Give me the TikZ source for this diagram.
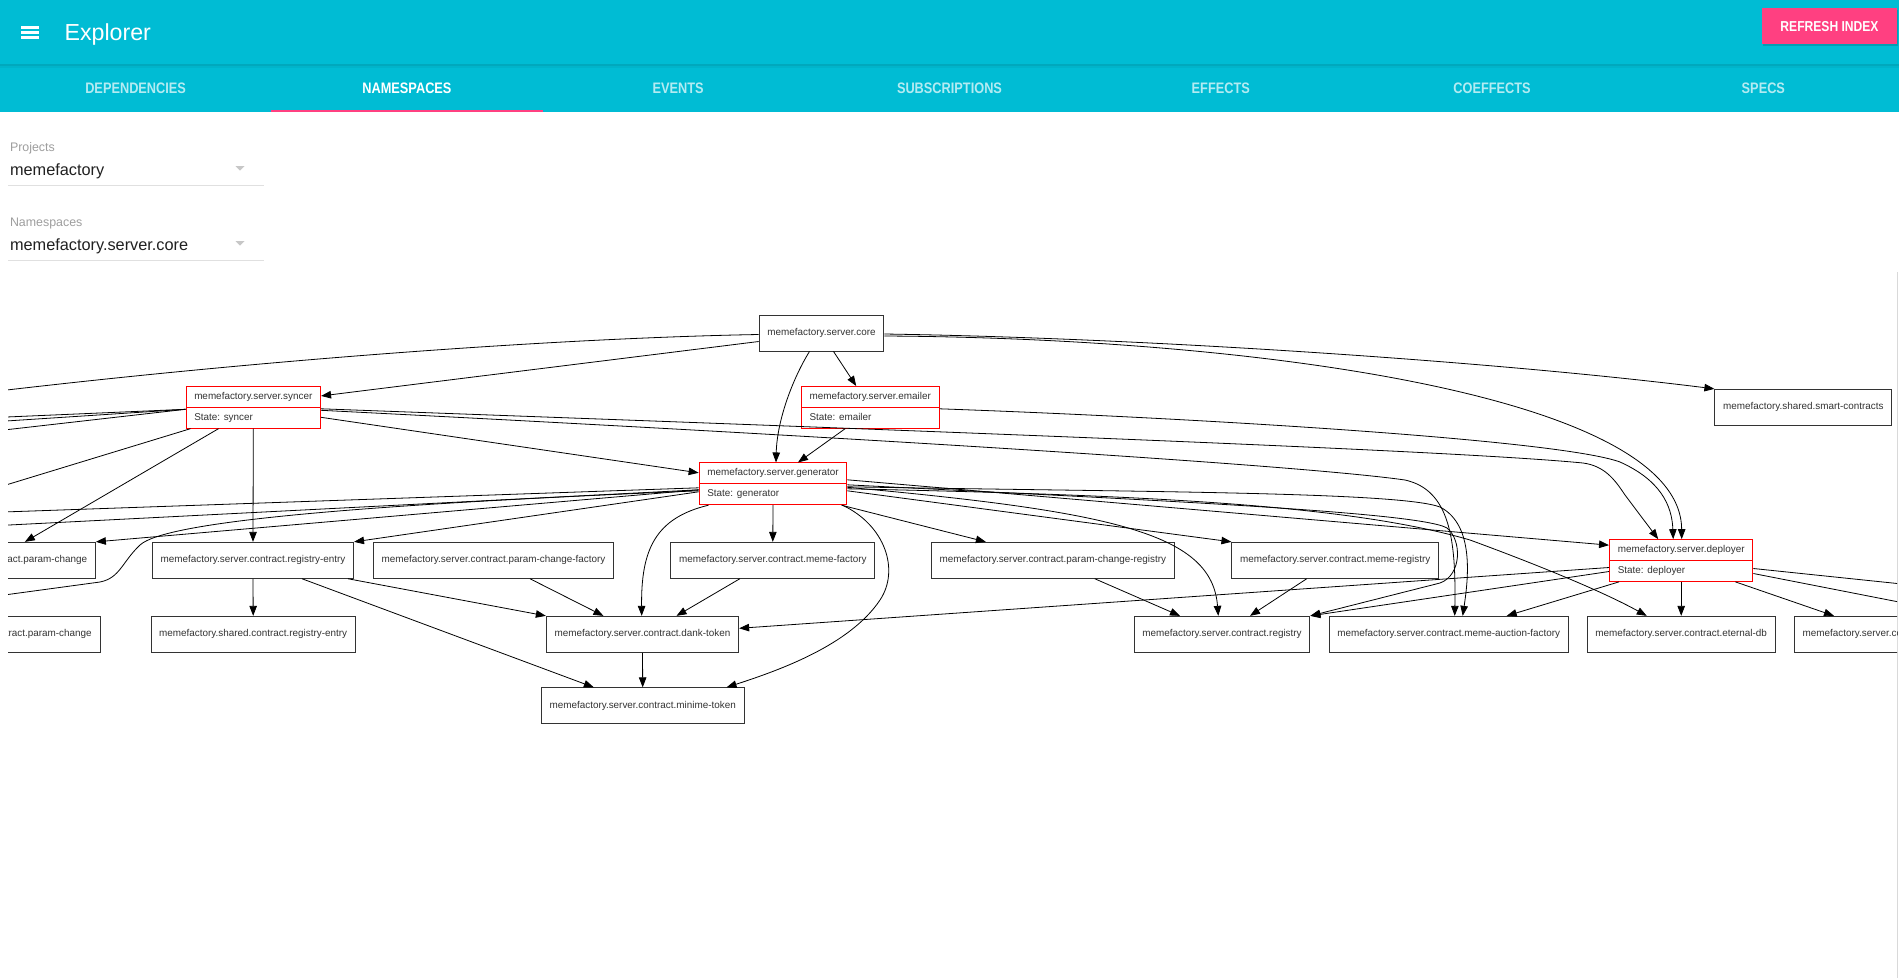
\documentclass[tikz,border=0pt]{standalone}
\usepackage{fontspec}
\setmainfont{Liberation Sans}
\newfontfamily\uifont[FakeStretch=0.84]{Liberation Sans}
\usepackage{tikz}
\usetikzlibrary{arrows.meta}
\usetikzlibrary{calc}
\usetikzlibrary{positioning}
\usetikzlibrary{shapes.multipart}
\definecolor{bar}{HTML}{00BCD4}
\definecolor{accent}{HTML}{FF4081}
\definecolor{tabtext}{HTML}{B3EBF2}
\definecolor{hint}{HTML}{9E9E9E}
\definecolor{ink}{HTML}{212121}
\definecolor{boxline}{HTML}{333333}
\newcommand{\st}[1]{\rule[-2.5pt]{0pt}{10pt}#1}

\begin{document}
\begin{tikzpicture}[x=1pt, y=-1pt,
    ns/.style={draw=boxline, line width=0.9pt, fill=white, text=boxline,
      font=\fontsize{9.9}{11}\selectfont, inner xsep=8.25pt, inner ysep=0pt,
      minimum height=36pt, text height=7.5pt, text depth=2.5pt},
    state/.style={rectangle split, rectangle split parts=2,
      rectangle split part align={left}, draw=red, line width=0.9pt, fill=white,
      text=boxline, font=\fontsize{9.9}{11}\selectfont,
      inner xsep=8.25pt, inner ysep=5pt},
    dep/.style={-{Triangle[length=10pt,width=7.5pt]}, line width=0.8pt},
    tab/.style={font=\uifont\bfseries\fontsize{15.2}{16}\selectfont, anchor=base}]

    \useasboundingbox (0,0) rectangle (1899,978);
    \fill [white] (0,0) rectangle (1899,978);

    % app bar and tabs
    \fill [bar] (0,0) rectangle (1899,112);
    \fill [bar!70!black, opacity=0.35] (0,64) rectangle (1899,66);
    \fill [bar!85!black, opacity=0.25] (0,66) rectangle (1899,68);
    \foreach \y in {27.5,32.5,37.5}
      \fill [white] (21,\y-1.1) rectangle (39,\y+1.1);
    \node [white, anchor=base west, font=\fontsize{23.2}{24}\selectfont]
      (title) at (61,40.5) {Explorer};
    \fill [black, opacity=0.15] (1763,10) rectangle (1898,46);
    \fill [accent] (1762,8) rectangle (1897,44);
    \node [white, anchor=base, font=\uifont\bfseries\fontsize{14.4}{16}\selectfont]
      (refresh) at (1829.5,31.5) {REFRESH INDEX};
    \foreach \name/\col [count=\i] in {DEPENDENCIES/tabtext, NAMESPACES/white,
        EVENTS/tabtext, SUBSCRIPTIONS/tabtext, EFFECTS/tabtext,
        COEFFECTS/tabtext, SPECS/tabtext}
      \node [tab, text=\col] (tab\i) at ({(\i-0.5)*1899/7}, 93.3) {\name};
    \fill [accent] (271.3,109.5) rectangle (542.6,112);

    % selectors
    \node [hint, anchor=base west, font=\fontsize{12.4}{14}\selectfont]
      (projlabel) at (6.5,151) {Projects};
    \node [ink, anchor=base west, font=\fontsize{16.3}{18}\selectfont]
      (project) at (6.5,175) {memefactory};
    \draw [black!12, line width=1pt] (8,185) -- (264,185);
    \fill [black!22] (235.5,166) -- (244.5,166) -- (240,170.5) -- cycle;
    \node [hint, anchor=base west, font=\fontsize{12.4}{14}\selectfont]
      (nslabel) at (6.5,226) {Namespaces};
    \node [ink, anchor=base west, font=\fontsize{16.3}{18}\selectfont]
      (namespace) at (6.5,250) {memefactory.server.core};
    \draw [black!12, line width=1pt] (8,260) -- (264,260);
    \fill [black!22] (235.5,241) -- (244.5,241) -- (240,245.5) -- cycle;

    \draw [black!15, line width=1pt] (1897.5,272) -- (1897.5,978);

    \begin{scope}
    \clip (8,268) rectangle (1897,978);

    \node [ns] (core) at (821.5,333) {memefactory.server.core};
    \node [state] (syncer) at (253.3,407.3)
      {\st{memefactory.server.syncer}\nodepart{two}\st{State: syncer}};
    \node [state] (emailer) at (870.2,407.3)
      {\st{memefactory.server.emailer}\nodepart{two}\st{State: emailer}};
    \node [ns] (smartc) at (1803.3,407.3) {memefactory.shared.smart-contracts};
    \node [state] (generator) at (773,483.8)
      {\st{memefactory.server.generator}\nodepart{two}\st{State: generator}};
    \node [state] (deployer) at (1681.2,560.5)
      {\st{memefactory.server.deployer}\nodepart{two}\st{State: deployer}};

    \node [ns] (pchange) at (-8.2,560.3) {memefactory.server.contract.param-change};
    \node [ns] (regentry) at (253,560.3) {memefactory.server.contract.registry-entry};
    \node [ns] (pcfactory) at (493.5,560.3) {memefactory.server.contract.param-change-factory};
    \node [ns] (memefac) at (772.8,560.3) {memefactory.server.contract.meme-factory};
    \node [ns] (pcregistry) at (1052.8,560.3) {memefactory.server.contract.param-change-registry};
    \node [ns] (memereg) at (1335.2,560.3) {memefactory.server.contract.meme-registry};

    \node [ns] (pchangeshared) at (-5.3,634.3) {memefactory.shared.contract.param-change};
    \node [ns] (sharedentry) at (253.2,634.3) {memefactory.shared.contract.registry-entry};
    \node [ns] (dank) at (642.5,634.3) {memefactory.server.contract.dank-token};
    \node [ns] (registry) at (1222,634.3) {memefactory.server.contract.registry};
    \node [ns] (auctionfac) at (1448.7,634.3) {memefactory.server.contract.meme-auction-factory};
    \node [ns] (eternaldb) at (1681.2,634.3) {memefactory.server.contract.eternal-db};
    \node [ns, anchor=west] (memeauction) at (1794,634.3) {memefactory.server.contract.meme-auction};
    \node [ns] (minime) at (642.7,705.8) {memefactory.server.contract.minime-token};

    % targets outside the view
    \coordinate (offcore) at (-60,398);
    \coordinate (offs1) at (-40,419);
    \coordinate (offs2) at (-40,424);
    \coordinate (offs3) at (-40,435);
    \coordinate (offs4) at (-40,499);
    \coordinate (offg1) at (-40,513.5);
    \coordinate (offg2) at (-40,527.5);
    \coordinate (offg3) at (-40,601);
    \coordinate (offd1) at (1950,589);
    \coordinate (offd2) at (1950,612);

    \draw [dep] ($(core.west)+(0,1.5)$) .. controls (560,338) and (250,360) .. (offcore);
    \draw [dep] ($(core.west)+(0,8.5)$) -- ($(syncer.north east)+(0,10)$);
    \draw [dep] ($(core.south)+(-12,0)$) .. controls (793,378) and (777,420) .. ($(generator.north)+(3,0)$);
    \draw [dep] ($(core.south)+(12,0)$) -- ($(emailer.north)+(-14,0)$);
    \draw [dep] ($(core.east)+(0,1)$) .. controls (1150,338) and (1500,362) .. (smartc.north west);
    \draw [dep] ($(core.east)+(0,3)$) .. controls (1250,338) and (1681,395) .. ($(deployer.north)+(0.5,0)$);

    \draw [dep] ($(emailer.south)+(-25,0)$) -- ($(generator.north)+(25,0)$);
    \draw [dep] ($(emailer.east)+(0,1.5)$) .. controls (1200,418) and (1560,440) .. (1620,462)
      .. controls (1660,480) and (1672,505) .. ($(deployer.north)+(-8,0)$);

    \draw [dep] ($(syncer.east)+(0,1.5)$) .. controls (900,430) and (1450,450) .. (1583,463)
      .. controls (1605,466) and (1615,480) .. (1625,495) -- ($(deployer.north)+(-23,0)$);
    \draw [dep] ($(syncer.east)+(0,3)$) .. controls (850,437) and (1300,465) .. (1405,480)
      .. controls (1450,490) and (1456,540) .. ($(auctionfac.north)+(6,0)$);
    \draw [dep] ($(syncer.east)+(0,10)$) -- ($(generator.west)+(0,-11)$);
    \draw [dep] (syncer.south) -- (regentry.north);
    \draw [dep] ($(syncer.south west)+(33,0)$) -- ($(pchange.north east)+(-71,0)$);
    \draw [dep] ($(syncer.south west)+(5,0)$) -- (offs4);
    \foreach \k in {1,2,3}
      \draw [dep] ($(syncer.west)+(0,2)$) -- (offs\k);

    \draw [dep] ($(generator.east)+(0,3)$) .. controls (1150,492) and (1400,492) .. (1440,507)
      .. controls (1475,525) and (1468,580) .. ($(auctionfac.north)+(14,0)$);
    \draw [dep] ($(generator.east)+(0,5)$) .. controls (1150,495) and (1350,505) .. (1470,540)
      .. controls (1530,562) and (1600,590) .. ($(eternaldb.north west)+(60,0)$);
    \draw [dep] ($(generator.east)+(0,-4)$) -- ($(deployer.north west)+(0,6)$);
    \draw [dep] ($(generator.east)+(0,1)$) .. controls (1150,500) and (1420,512) .. (1447,528)
      .. controls (1462,540) and (1462,575) .. (1440,583) -- (registry.north east);
    \draw [dep] ($(generator.east)+(0,3.5)$) .. controls (1120,512) and (1212,535) .. ($(registry.north)+(-3.7,0)$);
    \draw [dep] ($(generator.east)+(0,7)$) -- (memereg.north west);
    \draw [dep] ($(generator.south east)+(-6,0)$) -- ($(pcregistry.north west)+(55,0)$);
    \draw [dep] (generator.south) -- (memefac.north);
    \draw [dep] ($(generator.south west)+(10,0)$) .. controls (655,518) and (641,550) .. ($(dank.north)+(-0.8,0)$);
    \draw [dep] ($(generator.south east)+(-5,0)$) .. controls (885,525) and (900,570) .. (880,600)
      .. controls (850,645) and (780,670) .. ($(minime.north east)+(-18,0)$);
    \draw [dep] ($(generator.west)+(0,8)$) -- (regentry.north east);
    \draw [dep] ($(generator.west)+(0,6)$) -- (pchange.north east);
    \draw [dep] ($(generator.west)+(0,4)$) -- (offg1);
    \draw [dep] ($(generator.west)+(0,6)$) -- (offg2);
    \draw [dep] ($(generator.west)+(0,7)$) .. controls (350,505) and (165,522) .. (140,545)
      .. controls (122,562) and (120,578) .. (100,582) -- (offg3);

    \draw [dep] ($(deployer.west)+(0,11)$) -- (registry.north east);
    \draw [dep] ($(deployer.west)+(0,7)$) -- ($(dank.east)+(0,-6)$);
    \draw [dep] ($(deployer.south west)+(10,0)$) -- ($(auctionfac.north)+(58,0)$);
    \draw [dep] (deployer.south) -- (eternaldb.north);
    \draw [dep] ($(deployer.south east)+(-18,0)$) -- ($(memeauction.north west)+(40,0)$);
    \draw [dep] ($(deployer.east)+(0,8)$) -- (offd1);
    \draw [dep] ($(deployer.east)+(0,13)$) -- (offd2);

    \draw [dep] ($(regentry.south east)+(-6,0)$) -- (dank.north west);
    \draw [dep] ($(regentry.south east)+(-52,0)$) -- ($(minime.north west)+(53,0)$);
    \draw [dep] (regentry.south) -- (sharedentry.north);
    \draw [dep] ($(pcfactory.south)+(36.5,0)$) -- ($(dank.north west)+(57.6,0)$);
    \draw [dep] ($(memefac.south)+(-33,0)$) -- ($(dank.north)+(34,0)$);
    \draw [dep] (dank.south) -- (minime.north);
    \draw [dep] ($(pcregistry.south)+(42,0)$) -- ($(registry.north)+(-42,0)$);
    \draw [dep] ($(memereg.south)+(-28.5,0)$) -- ($(registry.north)+(28,0)$);
    \end{scope}

  \end{tikzpicture}
\end{document}
